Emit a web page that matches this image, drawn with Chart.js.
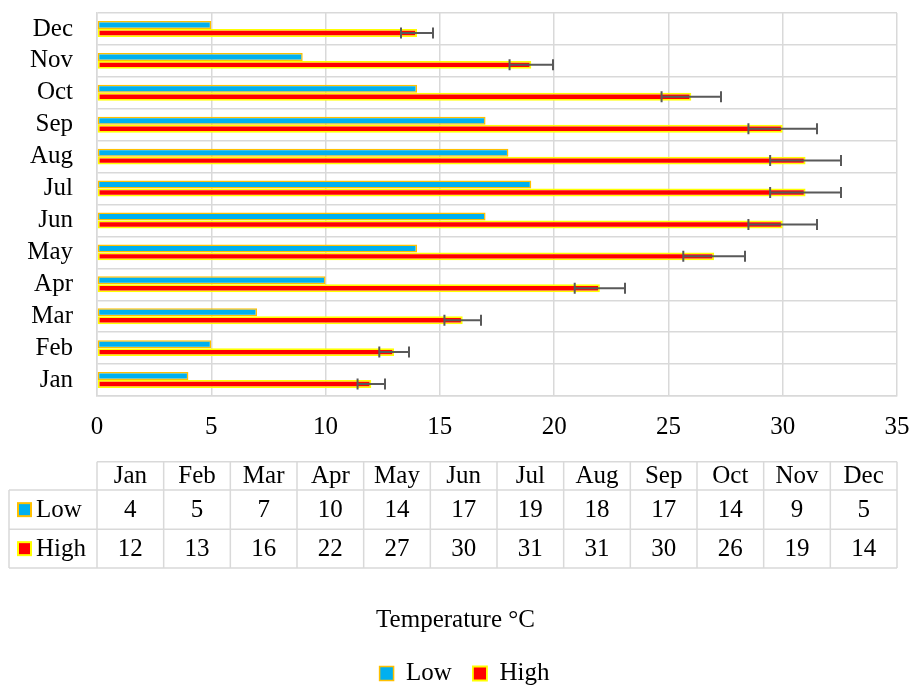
<!DOCTYPE html>
<html><head><meta charset="utf-8">
<script src="https://cdn.jsdelivr.net/npm/chart.js@4.4.1/dist/chart.umd.min.js"></script>
<style>html,body{margin:0;padding:0;background:#fff}#wrap{width:911px;height:688px;position:relative}</style>
</head><body><div id="wrap"><canvas id="c"></canvas></div>
<script>
const categories = ['Jan','Feb','Mar','Apr','May','Jun','Jul','Aug','Sep','Oct','Nov','Dec'];
const lowValues = [4,5,7,10,14,17,19,18,17,14,9,5];
const highValues = [12,13,16,22,27,30,31,31,30,26,19,14];
const highErrors = [0.6,0.65,0.8,1.1,1.35,1.5,1.55,1.55,1.5,1.3,0.95,0.7];
const xTickValues = [0,5,10,15,20,25,30,35];
const seriesNames = ['Low','High'];
const axisTitle = 'Temperature °C';

const FONT = "'Liberation Serif','Times New Roman',serif";
const LOW_FILL = '#00B0F0', LOW_BORDER = '#FFC000';
const HIGH_FILL = '#FF0000', HIGH_BORDER = '#FFFF00';
const GRID = '#D9D9D9';

const errorBarPlugin = {
  id: 'errorBars',
  afterDatasetsDraw(chart) {
    const meta = chart.getDatasetMeta(1);
    const xs = chart.scales.x;
    const ctx = chart.ctx;
    ctx.save();
    ctx.strokeStyle = '#595959';
    ctx.lineWidth = 2;
    meta.data.forEach((bar, i) => {
      const v = highValues[i], e = highErrors[i];
      const x0 = xs.getPixelForValue(v - e), x1 = xs.getPixelForValue(v + e);
      const y = bar.y;
      ctx.beginPath();
      ctx.moveTo(x0, y); ctx.lineTo(x1, y);
      ctx.moveTo(x0, y - 5.5); ctx.lineTo(x0, y + 5.5);
      ctx.moveTo(x1, y - 5.5); ctx.lineTo(x1, y + 5.5);
      ctx.stroke();
    });
    ctx.restore();
  }
};

const dataTablePlugin = {
  id: 'dataTable',
  afterDraw(chart) {
    const { left, right, bottom } = chart.chartArea;
    const ctx = chart.ctx;
    const t0 = bottom + 65.7, t1 = bottom + 94, t2 = bottom + 133.3, t3 = bottom + 172;
    const labelLeft = 9;
    const n = categories.length;
    const colW = (right - left) / n;
    ctx.save();
    ctx.strokeStyle = GRID;
    ctx.lineWidth = 1.5;
    ctx.beginPath();
    ctx.moveTo(left, t0); ctx.lineTo(right, t0);
    [t1, t2, t3].forEach(y => { ctx.moveTo(labelLeft, y); ctx.lineTo(right, y); });
    ctx.moveTo(labelLeft, t1); ctx.lineTo(labelLeft, t3);
    for (let k = 0; k <= n; k++) {
      const x = left + k * colW;
      ctx.moveTo(x, t0); ctx.lineTo(x, t3);
    }
    ctx.stroke();

    ctx.fillStyle = '#000';
    ctx.font = '25px ' + FONT;
    ctx.textAlign = 'center';
    ctx.textBaseline = 'middle';
    const yH = (t0 + t1) / 2 + 1, yL = (t1 + t2) / 2 + 1, yHi = (t2 + t3) / 2 + 1;
    categories.forEach((c, i) => {
      const cx = left + (i + 0.5) * colW;
      ctx.fillText(c, cx, yH);
      ctx.fillText(String(lowValues[i]), cx, yL);
      ctx.fillText(String(highValues[i]), cx, yHi);
    });
    const rows = [
      { name: seriesNames[0], y: yL - 1, fill: LOW_FILL, border: LOW_BORDER },
      { name: seriesNames[1], y: yHi - 1, fill: HIGH_FILL, border: HIGH_BORDER }
    ];
    rows.forEach(r => {
      ctx.fillStyle = r.border;
      ctx.fillRect(17, r.y - 7.5, 15, 15);
      ctx.fillStyle = r.fill;
      ctx.fillRect(19, r.y - 5.5, 11, 11);
      ctx.fillStyle = '#000';
      ctx.textAlign = 'left';
      ctx.fillText(r.name, 36, r.y + 1);
    });
    ctx.restore();
  }
};

const legendShiftPlugin = {
  id: 'legendShift',
  afterLayout(chart) {
    if (chart.legend) { chart.legend.left += 9; chart.legend.right += 9; }
  }
};

new Chart(document.getElementById('c'), {
  type: 'bar',
  data: {
    labels: categories,
    datasets: [
      { label: seriesNames[0], data: lowValues, backgroundColor: LOW_FILL, borderColor: LOW_BORDER, borderWidth: 1.5, borderSkipped: false },
      { label: seriesNames[1], data: highValues, backgroundColor: HIGH_FILL, borderColor: HIGH_BORDER, borderWidth: 1.8, borderSkipped: false }
    ]
  },
  options: {
    indexAxis: 'y',
    responsive: true,
    maintainAspectRatio: false,
    animation: false,
    datasets: { bar: { categoryPercentage: 0.5, barPercentage: 1.0 } },
    layout: { padding: { top: 13, right: 0, left: 0, bottom: 0 } },
    scales: {
      x: {
        min: 0, max: 35,
        afterBuildTicks(scale) { scale.ticks = xTickValues.map(v => ({ value: v })); },
        afterFit(scale) { scale.paddingLeft = 0; scale.paddingRight = 14; },
        ticks: { color: '#000', font: { family: FONT, size: 25 }, padding: 16 },
        grid: { color: GRID, lineWidth: 1.5, drawTicks: false },
        border: { color: GRID, width: 1.5 }
      },
      y: {
        reverse: true,
        afterFit(scale) { scale.width = 97; scale.paddingTop = 0; scale.paddingBottom = 0; },
        ticks: { color: '#000', font: { family: FONT, size: 25 }, padding: 24, autoSkip: false },
        grid: { color: GRID, lineWidth: 1.5, drawTicks: false },
        border: { color: GRID, width: 1.5 }
      }
    },
    plugins: {
      title: {
        display: true, text: axisTitle, position: 'bottom', weight: 500, fullSize: true,
        color: '#000', font: { family: FONT, size: 25, weight: 'normal' },
        padding: { top: 147, bottom: 5 }
      },
      legend: {
        position: 'bottom',
        maxHeight: 48,
        labels: { color: '#000', font: { family: FONT, size: 25 }, boxWidth: 14, boxHeight: 14, padding: 21 }
      },
      tooltip: { enabled: false }
    }
  },
  plugins: [errorBarPlugin, dataTablePlugin, legendShiftPlugin]
});
</script>
</body></html>
